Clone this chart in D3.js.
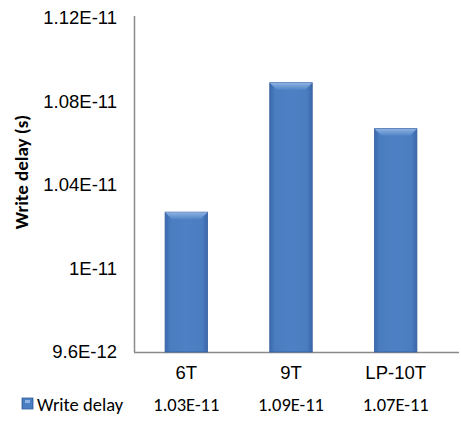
<!DOCTYPE html>
<html>
<head>
<meta charset="utf-8">
<script src="https://cdn.jsdelivr.net/npm/d3@7"></script>
<style>
  html, body { margin: 0; padding: 0; background: #fff; }
  svg { display: block; font-family: "Carlito", "Liberation Sans", Arial, sans-serif; }
</style>
</head>
<body>
<svg id="chart" width="461" height="424"></svg>
<script>
// Write delay per SRAM cell design
const categories = ["6T", "9T", "LP-10T"];
const writeDelay = [1.027e-11, 1.089e-11, 1.067e-11];
const seriesName = "Write delay";
const yTickValues = [9.6e-12, 1.0e-11, 1.04e-11, 1.08e-11, 1.12e-11];
const yTickLabels = ["9.6E-12", "1E-11", "1.04E-11", "1.08E-11", "1.12E-11"];

const svg = d3.select("#chart");
const plot = { left: 134, right: 448, top: 18, bottom: 352, lineEnd: 459 };
const fontSize = 18.5;

const x = d3.scaleBand()
  .domain(categories)
  .range([plot.left, plot.right])
  .paddingInner(0.594)
  .paddingOuter(0.297);

const y = d3.scaleLinear()
  .domain([yTickValues[0], yTickValues[yTickValues.length - 1]])
  .range([plot.bottom, plot.top]);

// Excel-style value format, e.g. 1.03E-11
const fmtValue = v => {
  const [m, e] = v.toExponential(2).split("e");
  return (+m).toString() + "E" + e;
};

// Bar gradients: horizontal shading plus a lighter bevel cap
const defs = svg.append("defs");
const body = defs.append("linearGradient").attr("id", "barBody")
  .attr("x1", 0).attr("x2", 1).attr("y1", 0).attr("y2", 0);
body.append("stop").attr("offset", "0%").attr("stop-color", "#3b69ad");
body.append("stop").attr("offset", "12%").attr("stop-color", "#4a7cc0");
body.append("stop").attr("offset", "50%").attr("stop-color", "#4d80c4");
body.append("stop").attr("offset", "88%").attr("stop-color", "#4a7cc0");
body.append("stop").attr("offset", "100%").attr("stop-color", "#3a67aa");

const cap = defs.append("linearGradient").attr("id", "barCap")
  .attr("x1", 0).attr("x2", 0).attr("y1", 0).attr("y2", 1);
cap.append("stop").attr("offset", "0%").attr("stop-color", "#8fb3e2");
cap.append("stop").attr("offset", "100%").attr("stop-color", "#5286c8");

// Axes
const gy = svg.append("g").attr("transform", `translate(${plot.left},0)`)
  .call(d3.axisLeft(y).tickValues(yTickValues)
    .tickFormat((d, i) => yTickLabels[i]).tickSize(0).tickPadding(17));
gy.select(".domain").attr("stroke", "#8a8a8a").attr("stroke-width", 1.5)
  .attr("d", `M0.5,${plot.top - 2}V${plot.bottom}`);
gy.selectAll("text").attr("font-size", fontSize).attr("fill", "#000")
  .attr("font-family", null);

const gx = svg.append("g").attr("transform", `translate(0,${plot.bottom})`)
  .call(d3.axisBottom(x).tickSize(0).tickPadding(14));
gx.select(".domain").attr("stroke", "#8a8a8a").attr("stroke-width", 1.5)
  .attr("d", `M${plot.left},0.5H${plot.lineEnd}`);
gx.selectAll("text").attr("font-size", fontSize).attr("fill", "#000")
  .attr("font-family", null);

// Bars
const bars = svg.append("g").selectAll("g").data(categories).join("g");
bars.append("rect")
  .attr("x", d => x(d))
  .attr("y", (d, i) => y(writeDelay[i]))
  .attr("width", x.bandwidth())
  .attr("height", (d, i) => plot.bottom - y(writeDelay[i]))
  .attr("fill", "url(#barBody)")
  .attr("stroke", "#36609f").attr("stroke-width", 0.8);
bars.append("path")
  .attr("d", (d, i) => {
    const x0 = x(d), x1 = x0 + x.bandwidth(), t = y(writeDelay[i]), b = 7;
    return `M${x0},${t}H${x1}L${x1 - b},${t + b}H${x0 + b}Z`;
  })
  .attr("fill", "url(#barCap)");

// Axis title
svg.append("text")
  .attr("transform", "translate(28,172) rotate(-90)")
  .attr("text-anchor", "middle")
  .attr("font-size", 19).attr("font-weight", "bold")
  .text("Write delay (s)");

// Data table row with legend key
const legend = svg.append("g");
legend.append("rect").attr("x", 22).attr("y", 398).attr("width", 11).attr("height", 11)
  .attr("fill", "url(#barBody)").attr("stroke", "#36609f").attr("stroke-width", 0.8);
legend.append("rect").attr("x", 25).attr("y", 400).attr("width", 5).attr("height", 3)
  .attr("fill", "#8fb3e2");
legend.append("text").attr("x", 37).attr("y", 411)
  .attr("font-size", fontSize).text(seriesName);
legend.selectAll("text.val").data(categories).join("text").attr("class", "val")
  .attr("x", d => x(d) + x.bandwidth() / 2).attr("y", 411)
  .attr("text-anchor", "middle").attr("font-size", fontSize)
  .text((d, i) => fmtValue(writeDelay[i]));
</script>
</body>
</html>
